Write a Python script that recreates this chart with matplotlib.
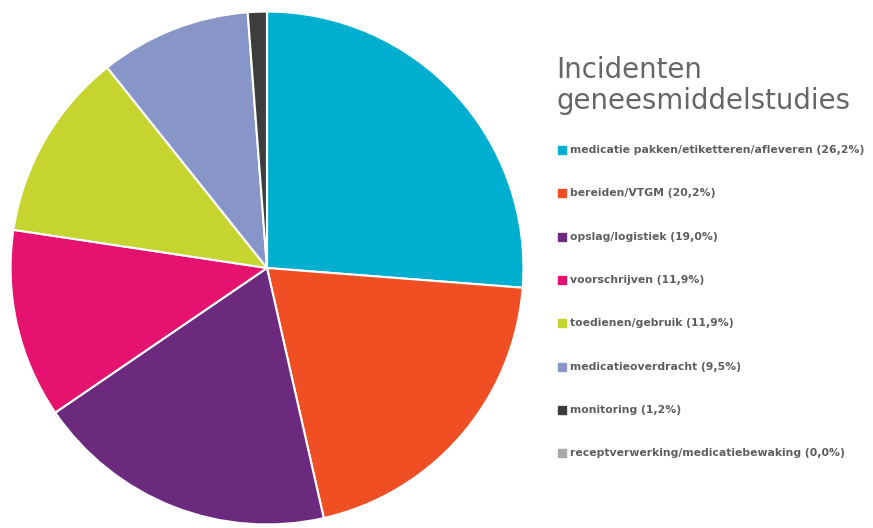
import matplotlib.pyplot as plt
from matplotlib.patches import Rectangle

# Data
categories = ['medicatie pakken/etiketteren/afleveren', 'bereiden/VTGM', 'opslag/logistiek',
              'voorschrijven', 'toedienen/gebruik', 'medicatieoverdracht', 'monitoring',
              'receptverwerking/medicatiebewaking']
shares = [26.2, 20.2, 19.0, 11.9, 11.9, 9.5, 1.2, 0.0]
colors = ['#00aed0', '#f04e23', '#6b2a7e', '#e5136f', '#c5d42f', '#8895c9', '#3d3d3d', '#a8a8a8']
title_lines = ['Incidenten', 'geneesmiddelstudies']

W, H = 873, 528
fig = plt.figure(figsize=(W / 100, H / 100), dpi=100)

# pie axes: circle centred at (267, 268) px, radius 259 px
cx, cy, r = 267, 268, 259
ax = fig.add_axes([(cx - r) / W, (H - cy - r) / H, 2 * r / W, 2 * r / H])
ax.pie(shares, colors=colors, startangle=90, counterclock=False, radius=1,
       wedgeprops=dict(edgecolor='white', linewidth=1.5))
ax.set_xlim(-1.01, 1.01)
ax.set_ylim(-1.01, 1.01)
ax.set_aspect('equal')
ax.axis('off')

# title, one text per line so the baselines are exact
for line, base in zip(title_lines, [78, 109]):
    fig.text(556 / W, 1 - base / H, line, ha='left', va='baseline', fontsize=19.8,
             family='DejaVu Sans', color='#666666')

# legend drawn by hand
y0, step = 150, 43.3
for i, (cat, val, col) in enumerate(zip(categories, shares, colors)):
    y = y0 + i * step
    fig.patches.append(Rectangle((558 / W, 1 - (y + 4) / H), 8 / W, 8 / H,
                                 transform=fig.transFigure, color=col, figure=fig))
    lbl = f'{cat} ({val:.1f}%)'.replace('.', ',')
    fig.text(570 / W, 1 - y / H, lbl, ha='left', va='center', fontsize=7.85,
             family='DejaVu Sans', fontweight='bold', color='#5e5e5e')

fig.savefig('out.png', dpi=100, facecolor='white')
